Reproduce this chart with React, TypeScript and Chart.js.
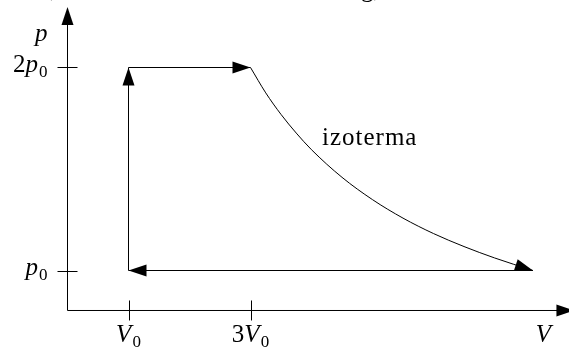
import React, { useEffect, useRef } from "react";
import { Chart, registerables } from "chart.js";

Chart.register(...registerables);

// ---- data (V in units of V0, p in units of p0) ----
const isochoreV = [1, 1];
const isochoreP = [1, 2];
const isobarV = [1, 3];
const isobarP = [2, 2];
const isothermV = [3, 3.25, 3.5, 3.75, 4, 4.5, 5, 5.5, 6, 6.5, 7, 7.63];
const isothermP = [2, 1.875, 1.769, 1.677, 1.595, 1.459, 1.349, 1.258, 1.182, 1.118, 1.062, 1];
const returnV = [7.63, 1];
const returnP = [1, 1];

const volumeTicks = [1, 3];
const volumeTickLabels = ["V0", "3V0"];
const pressureTicks = [1, 2];
const pressureTickLabels = ["p0", "2p0"];
const axisLabelV = "V";
const axisLabelP = "p";
const curveLabel = "izoterma";

// axis extents (data units)
const axisOriginV = 0;
const axisOriginP = 0.803;
const axisEndV = 8.31;
const axisEndP = 2.298;

const X_MIN = -67.5 / 61;
const X_MAX = (569 - 67.5) / 61;
const Y_MIN = (473.5 - 347) / 203;
const Y_MAX = 473.5 / 203;

const FONT = '"Liberation Serif", "DejaVu Serif", serif';

type Part = { t: string; it?: boolean; sub?: boolean };

function parseLabel(s: string): Part[] {
  const parts: Part[] = [];
  const m = s.match(/^(\d*)([A-Za-z])(\d*)$/);
  if (!m) return [{ t: s }];
  if (m[1]) parts.push({ t: m[1] });
  parts.push({ t: m[2], it: true });
  if (m[3]) parts.push({ t: m[3], sub: true });
  return parts;
}

function fontFor(p: Part) {
  if (p.sub) return `17px ${FONT}`;
  if (p.it) return `italic 25px ${FONT}`;
  return `25px ${FONT}`;
}

function drawMath(
  ctx: CanvasRenderingContext2D,
  parts: Part[],
  x: number,
  baseline: number,
  align: "left" | "center" | "right"
) {
  ctx.save();
  ctx.textAlign = "left";
  ctx.textBaseline = "alphabetic";
  ctx.fillStyle = "#000";
  const widths = parts.map((p) => {
    ctx.font = fontFor(p);
    return ctx.measureText(p.t).width + (p.it ? 1 : 0);
  });
  const total = widths.reduce((a, b) => a + b, 0);
  let cx = align === "left" ? x : align === "center" ? x - total / 2 : x - total;
  parts.forEach((p, i) => {
    ctx.font = fontFor(p);
    ctx.fillText(p.t, cx, baseline + (p.sub ? 5 : 0));
    cx += widths[i];
  });
  ctx.restore();
}

function arrowHead(
  ctx: CanvasRenderingContext2D,
  fromX: number,
  fromY: number,
  tipX: number,
  tipY: number,
  len = 18,
  half = 6
) {
  const a = Math.atan2(tipY - fromY, tipX - fromX);
  const bx = tipX - len * Math.cos(a);
  const by = tipY - len * Math.sin(a);
  ctx.beginPath();
  ctx.moveTo(tipX, tipY);
  ctx.lineTo(bx + half * Math.sin(a), by - half * Math.cos(a));
  ctx.lineTo(bx - half * Math.sin(a), by + half * Math.cos(a));
  ctx.closePath();
  ctx.fill();
}

const decorPlugin = {
  id: "decor",
  afterDatasetsDraw(chart: any) {
    const ctx: CanvasRenderingContext2D = chart.ctx;
    const xs = chart.scales.x;
    const ys = chart.scales.y;
    const px = (v: number) => xs.getPixelForValue(v);
    const py = (v: number) => ys.getPixelForValue(v);
    ctx.save();
    ctx.fillStyle = "#000";
    ctx.strokeStyle = "#000";
    ctx.lineWidth = 1;

    // axis arrows
    arrowHead(ctx, px(axisOriginV), py(axisOriginP), px(axisOriginV), py(axisEndP));
    arrowHead(ctx, px(axisOriginV), py(axisOriginP), px(axisEndV), py(axisOriginP));

    // ticks
    const ax = px(axisOriginV);
    const ay = py(axisOriginP);
    volumeTicks.forEach((v, i) => {
      const x = Math.round(px(v)) + 0.5;
      ctx.beginPath();
      ctx.moveTo(x, ay - 10);
      ctx.lineTo(x, ay + 10);
      ctx.stroke();
      drawMath(ctx, parseLabel(volumeTickLabels[i]), px(v), ay + 32, "center");
    });
    pressureTicks.forEach((p, i) => {
      const y = Math.round(py(p)) + 0.5;
      ctx.beginPath();
      ctx.moveTo(ax - 10, y);
      ctx.lineTo(ax + 10, y);
      ctx.stroke();
      drawMath(ctx, parseLabel(pressureTickLabels[i]), ax - 20, py(p) + 4, "right");
    });

    // axis names
    drawMath(ctx, parseLabel(axisLabelV), 544, ay + 32, "center");
    drawMath(ctx, parseLabel(axisLabelP), 35, 41, "left");

    // process arrows
    arrowHead(ctx, px(isochoreV[0]), py(isochoreP[0]), px(isochoreV[1]), py(isochoreP[1]));
    arrowHead(ctx, px(isobarV[0]), py(isobarP[0]), px(isobarV[1]), py(isobarP[1]));
    const n = isothermV.length;
    arrowHead(
      ctx,
      px(isothermV[n - 2]),
      py(isothermP[n - 2]),
      px(isothermV[n - 1]),
      py(isothermP[n - 1])
    );
    arrowHead(ctx, px(returnV[0]), py(returnP[0]), px(returnV[1]), py(returnP[1]));

    // curve label
    ctx.save();
    ctx.font = `25px ${FONT}`;
    (ctx as any).letterSpacing = "1px";
    ctx.textAlign = "left";
    ctx.textBaseline = "alphabetic";
    ctx.fillText(curveLabel, 322, 145);
    ctx.restore();

    // cut-off text remnant at the very top
    ctx.font = `25px ${FONT}`;
    ctx.textAlign = "left";
    ctx.fillText("g,", 361, -3);
    ctx.fillText(",", 50, -3);

    ctx.restore();
  },
};

function line(xsArr: number[], ysArr: number[], extra: any = {}) {
  return {
    data: xsArr.map((x, i) => ({ x, y: ysArr[i] })),
    borderColor: "#000",
    borderWidth: 1,
    pointRadius: 0,
    showLine: true,
    fill: false,
    ...extra,
  };
}

export default function App() {
  const ref = useRef<HTMLCanvasElement | null>(null);
  useEffect(() => {
    document.body.style.margin = "0";
    const canvas = ref.current;
    if (!canvas) return;
    const chart = new Chart(canvas, {
      type: "scatter",
      data: {
        datasets: [
          line([axisOriginV, axisEndV - 0.1], [axisOriginP, axisOriginP]),
          line([axisOriginV, axisOriginV], [axisOriginP, axisEndP - 0.05]),
          line(isochoreV, isochoreP),
          line(isobarV, isobarP),
          line(isothermV, isothermP, { cubicInterpolationMode: "monotone" }),
          line(returnV, returnP),
        ] as any,
      },
      options: {
        responsive: false,
        animation: false,
        events: [],
        layout: { padding: 0 },
        plugins: { legend: { display: false }, tooltip: { enabled: false } },
        scales: {
          x: { type: "linear", min: X_MIN, max: X_MAX, display: false },
          y: { type: "linear", min: Y_MIN, max: Y_MAX, display: false },
        },
      },
      plugins: [decorPlugin],
    });
    return () => chart.destroy();
  }, []);
  return (
    <div style={{ width: 569, height: 347 }}>
      <canvas ref={ref} width={569} height={347} style={{ display: "block" }} />
    </div>
  );
}
